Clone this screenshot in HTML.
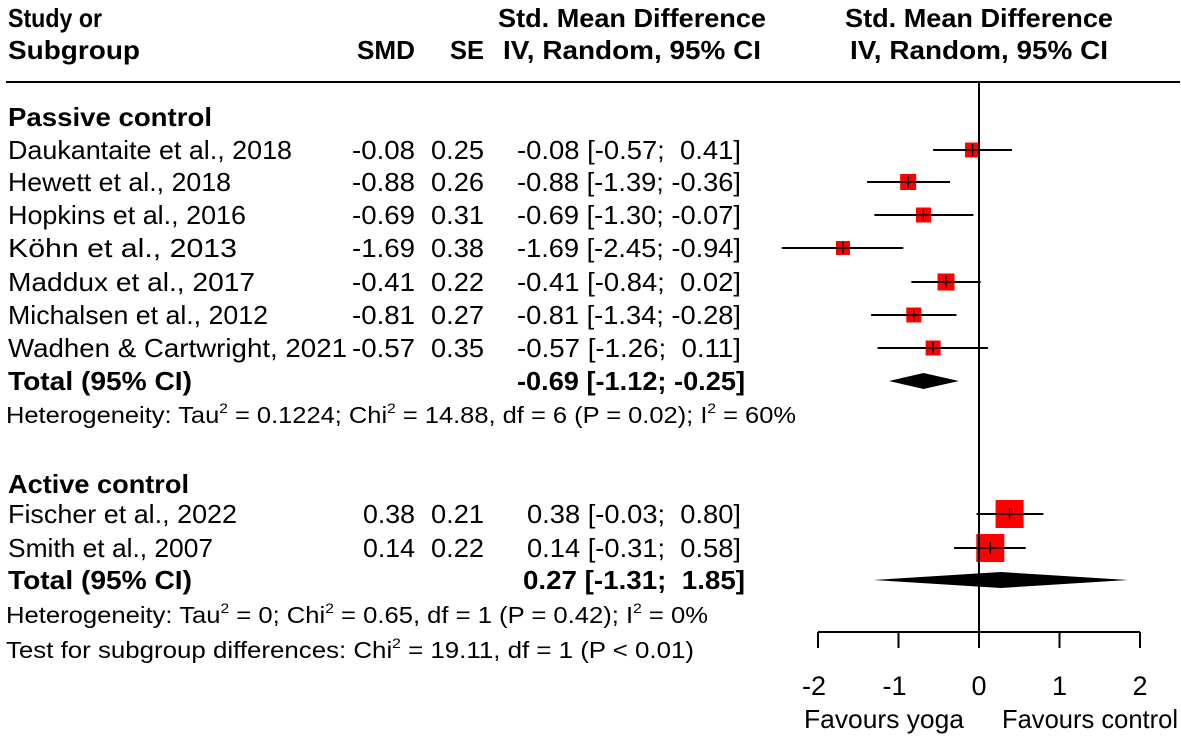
<!DOCTYPE html>
<html><head><meta charset="utf-8">
<style>
html,body{margin:0;padding:0;background:#fff;}
svg{display:block;font-family:"Liberation Sans",Arial,sans-serif;}
text{fill:#000;white-space:pre;}
.b{font-weight:bold;}
</style></head>
<body>
<svg id="chart" width="1181" height="740" viewBox="0 0 1181 740" xmlns="http://www.w3.org/2000/svg">
<g id="hdr">
<text class="b" x="8" y="27" font-size="26" textLength="94" lengthAdjust="spacingAndGlyphs">Study or</text>
<text class="b" x="8" y="59" font-size="26" textLength="132" lengthAdjust="spacingAndGlyphs">Subgroup</text>
<text class="b" x="415" y="59" font-size="26" text-anchor="end" textLength="58" lengthAdjust="spacingAndGlyphs">SMD</text>
<text class="b" x="484" y="59" font-size="26" text-anchor="end" textLength="34" lengthAdjust="spacingAndGlyphs">SE</text>
<text class="b" x="632" y="27" font-size="26" text-anchor="middle" textLength="268" lengthAdjust="spacingAndGlyphs">Std. Mean Difference</text>
<text class="b" x="632" y="59" font-size="26" text-anchor="middle" textLength="258" lengthAdjust="spacingAndGlyphs">IV, Random, 95% CI</text>
<text class="b" x="979" y="27" font-size="26" text-anchor="middle" textLength="268" lengthAdjust="spacingAndGlyphs">Std. Mean Difference</text>
<text class="b" x="979" y="59" font-size="26" text-anchor="middle" textLength="258" lengthAdjust="spacingAndGlyphs">IV, Random, 95% CI</text>
<line x1="6" y1="82" x2="1180" y2="82" stroke="#000" stroke-width="2"/>
</g>
<g id="rows"></g>
<g id="plot"></g>
</svg>
<script>
const studies = ["Daukantaite et al., 2018","Hewett et al., 2018","Hopkins et al., 2016","Köhn et al., 2013","Maddux et al., 2017","Michalsen et al., 2012","Wadhen & Cartwright, 2021","Fischer et al., 2022","Smith et al., 2007"];
const smd = [-0.08,-0.88,-0.69,-1.69,-0.41,-0.81,-0.57,0.38,0.14];
const se = [0.25,0.26,0.31,0.38,0.22,0.27,0.35,0.21,0.22];
const lower = [-0.57,-1.39,-1.30,-2.45,-0.84,-1.34,-1.26,-0.03,-0.31];
const upper = [0.41,-0.36,-0.07,-0.94,0.02,-0.28,0.11,0.80,0.58];
const weights = [15,16,15,14,17,15,15,28,28];
const nameWidths = [284,223,238,229,247,260,339,229,205];
const rowY = [150,182,215,248,282,315,348,514,548];
const totals = [-0.69,0.27];
const totalLower = [-1.12,-1.31];
const totalUpper = [-0.25,1.85];
const totalY = [381,580];
const ticks = [-2,-1,0,1,2];

const NS="http://www.w3.org/2000/svg";
const x = v => 979 + v*80.5;
function el(tag, attrs, parent, txt){const e=document.createElementNS(NS,tag);for(const k in attrs)e.setAttribute(k,attrs[k]);if(txt!==undefined)e.textContent=txt;parent.appendChild(e);return e;}
const f2 = v => (v<0?"-":"")+Math.abs(v).toFixed(2);
const ci = (m,l,u) => f2(m)+" ["+f2(l)+"; "+(u<0?"":" ")+f2(u)+"]";
const rows=document.getElementById('rows'), plot=document.getElementById('plot');

let t=el('text',{x:8,y:126,'font-size':26,class:'b',textLength:204,lengthAdjust:'spacingAndGlyphs'},rows,'Passive control');


t=el('text',{x:8,y:493,'font-size':26,class:'b',textLength:181,lengthAdjust:'spacingAndGlyphs'},rows,'Active control');



studies.forEach((s,i)=>{
  const y=rowY[i]+9;
  const neg=smd[i]<0;
  let a=el('text',{x:8,y:y,'font-size':26,textLength:nameWidths[i],lengthAdjust:'spacingAndGlyphs'},rows,s);
  
  
  a=el('text',{x:415,y:y,'font-size':26,'text-anchor':'end',textLength:neg?63:52,lengthAdjust:'spacingAndGlyphs'},rows,f2(smd[i]));
  
  
  a=el('text',{x:484,y:y,'font-size':26,'text-anchor':'end',textLength:53,lengthAdjust:'spacingAndGlyphs'},rows,se[i].toFixed(2));
  
  
  a=el('text',{x:741,y:y,'font-size':26,'text-anchor':'end',textLength:neg?224:214,lengthAdjust:'spacingAndGlyphs'},rows,ci(smd[i],lower[i],upper[i]));
  
  
  a=el('line',{x1:x(lower[i]),x2:x(upper[i]),y1:rowY[i],y2:rowY[i],stroke:'#000','stroke-width':2},plot);
  
  
  const w=weights[i];
  a=el('rect',{x:x(smd[i])-w/2,y:rowY[i]-w/2,width:w,height:w,fill:'#ff0000'},plot);
  
  
  a=el('line',{x1:x(smd[i]),x2:x(smd[i]),y1:rowY[i]-6,y2:rowY[i]+6,stroke:'#000','stroke-width':1.5},plot);
  
  
  a=el('line',{x1:x(smd[i])-w/2,x2:x(smd[i])+w/2,y1:rowY[i],y2:rowY[i],stroke:'#000','stroke-width':1.5},plot);
  
  
});

totals.forEach((m,i)=>{
  const y=totalY[i]+9;
  let a=el('text',{x:8,y:y,'font-size':26,class:'b',textLength:184,lengthAdjust:'spacingAndGlyphs'},rows,'Total (95% CI)');
  
  
  a=el('text',{x:745,y:y,'font-size':26,class:'b','text-anchor':'end',textLength:m<0?228:222,lengthAdjust:'spacingAndGlyphs'},rows,ci(m,totalLower[i],totalUpper[i]));
  
  
  const h=8;
  a=el('polygon',{points:`${x(totalLower[i])},${totalY[i]} ${x(m)},${totalY[i]-h} ${x(totalUpper[i])},${totalY[i]} ${x(m)},${totalY[i]+h}`,fill:'#000'},plot);
  
  
});

const notes=[
 [423,790,'Heterogeneity: Tau<tspan dy="-10" font-size="14">2</tspan><tspan dy="10"> = 0.1224; Chi</tspan><tspan dy="-10" font-size="14">2</tspan><tspan dy="10"> = 14.88, df = 6 (P = 0.02); I</tspan><tspan dy="-10" font-size="14">2</tspan><tspan dy="10"> = 60%</tspan>','heterogeneity-passive'],
 [623,702,'Heterogeneity: Tau<tspan dy="-10" font-size="14">2</tspan><tspan dy="10"> = 0; Chi</tspan><tspan dy="-10" font-size="14">2</tspan><tspan dy="10"> = 0.65, df = 1 (P = 0.42); I</tspan><tspan dy="-10" font-size="14">2</tspan><tspan dy="10"> = 0%</tspan>','heterogeneity-active'],
 [658,688,'Test for subgroup differences: Chi<tspan dy="-10" font-size="14">2</tspan><tspan dy="10"> = 19.11, df = 1 (P &lt; 0.01)</tspan>','subgroup-test']
];
notes.forEach(n=>{
  const a=el('text',{x:6,y:n[0],'font-size':23,textLength:n[1],lengthAdjust:'spacingAndGlyphs'},rows);
  a.innerHTML=n[2];
  
  
});

let z=el('line',{x1:x(0),x2:x(0),y1:82,y2:632,stroke:'#000','stroke-width':2},plot);


z=el('line',{x1:x(ticks[0]),x2:x(ticks[ticks.length-1]),y1:632,y2:632,stroke:'#000','stroke-width':2},plot);


ticks.forEach(v=>{
  let a=el('line',{x1:x(v),x2:x(v),y1:632,y2:648,stroke:'#000','stroke-width':2},plot);
  
  
  a=el('text',{x:x(v)-(v<0?4:0),y:695,'font-size':27,'text-anchor':'middle'},plot,String(v));
  
  
});
z=el('text',{x:884,y:728,'font-size':26,'text-anchor':'middle',textLength:160,lengthAdjust:'spacingAndGlyphs'},plot,'Favours yoga');


z=el('text',{x:1090,y:728,'font-size':26,'text-anchor':'middle',textLength:176,lengthAdjust:'spacingAndGlyphs'},plot,'Favours control');


</script>
</body></html>
